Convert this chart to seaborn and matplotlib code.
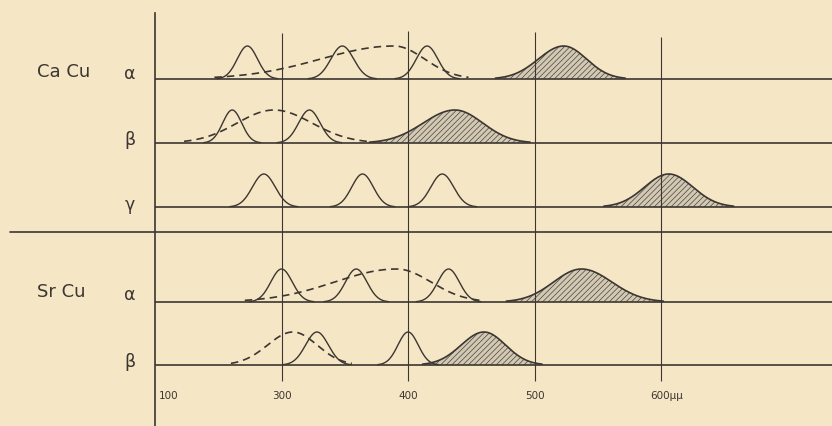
import numpy as np
import pandas as pd
import matplotlib
matplotlib.use("Agg")
import matplotlib.pyplot as plt
import seaborn as sns

# rows from top to bottom
group_names = ["Ca Cu", "Sr Cu"]
row_names = ["α", "β", "γ", "α", "β"]

# solid bands: centre (μμ) and width
solid_centres = [[273, 348, 415], [261, 322], [286, 364, 427], [300, 359, 432], [328, 400]]
solid_widths = [[8, 9, 8.5], [7.5, 8.5], [9, 8.5, 9], [8.5, 8.5, 8.5], [9, 8]]

# dashed broad bands: centre, left width, right width (None = no band)
dashed_centres = [389, 294, None, 391, 309]
dashed_left = [58, 29, None, 49, 20]
dashed_right = [24, 30, None, 27, 19]

# shaded (hatched) bands
shaded_centres = [523, 437, 606, 537, 460]
shaded_left = [20, 25, 19, 22, 18]
shaded_right = [18, 22, 19, 24, 17]

tick_values = [200, 300, 400, 500, 600]
tick_labels = ["100", "300", "400", "500", "600μμ"]

# layout (pixel rows of the original plate)
W, H = 832, 426
baseline_px = [79, 143, 207, 302, 365]
label_px = [74, 140, 205, 295, 362]
group_px = [72, 292]
separator_px = 232
peak_h = 33
bg = "#f5e6c5"
ink = "#3b3631"

sns.set_theme(style="white", rc={"figure.facecolor": bg, "axes.facecolor": bg,
                                 "hatch.linewidth": 0.45, "hatch.color": ink})
plt.rcParams["font.family"] = ["DejaVu Sans"]


def band(c, sl, sr, reach=2.7, n=240):
    x = np.linspace(c - reach * sl, c + reach * sr, n)
    s = np.where(x < c, sl, sr)
    return x, np.exp(-(x - c) ** 2 / (2 * s ** 2))


fig = plt.figure(figsize=(W / 100, H / 100), dpi=100)
ax = fig.add_axes([155 / W, 0, 1 - 155 / W, 1])
ax.set_xlim(200, 735)
ax.set_ylim(0, H)

# grid verticals and bottom ticks
tops = [393, 395, 394, 389]
for w, t in zip(tick_values[1:], tops):
    ax.vlines(w, H - 381, t, color=ink, lw=0.8)

for i in range(len(row_names)):
    base = H - baseline_px[i]
    ax.axhline(base, color=ink, lw=1.2)

    c = shaded_centres[i]
    x, y = band(c, shaded_left[i], shaded_right[i])
    ax.fill_between(x, base, base + peak_h * y, facecolor="#d3c9b2",
                    edgecolor=ink, hatch="//////", lw=0)
    sns.lineplot(x=x, y=base + peak_h * y, ax=ax, color=ink, lw=1.2,
                 estimator=None, sort=False)

    for c, s in zip(solid_centres[i], solid_widths[i]):
        x, y = band(c, s, s, reach=3.0)
        sns.lineplot(x=x, y=base + peak_h * y, ax=ax, color=ink, lw=1.0,
                     estimator=None, sort=False)

    if dashed_centres[i] is not None:
        x, y = band(dashed_centres[i], dashed_left[i], dashed_right[i], reach=2.45)
        sns.lineplot(x=x, y=base + peak_h * y, ax=ax, color=ink, lw=1.2,
                     estimator=None, sort=False, linestyle=(0, (4.5, 3)))

    fig.text(130 / W, 1 - label_px[i] / H, row_names[i], ha="center", va="center",
             fontsize=12.5, color=ink)

# separator between the two salts
ax.axhline(H - separator_px, xmin=-(145 / 677), xmax=1, color=ink, lw=1.2, clip_on=False)

for g, gy in zip(group_names, group_px):
    fig.text(37 / W, 1 - gy / H, g, ha="left", va="center", fontsize=13, color=ink)

for w, lab in zip(tick_values, tick_labels):
    if w == 200:
        ax.text(w + 3, H - 396, lab, ha="left", va="center", fontsize=7.5, color=ink)
    elif lab.endswith("μμ"):
        ax.text(w - 9, H - 396, lab, ha="left", va="center", fontsize=7.5, color=ink)
    else:
        ax.text(w, H - 396, lab, ha="center", va="center", fontsize=7.5, color=ink)

for side in ["top", "right", "bottom"]:
    ax.spines[side].set_visible(False)
ax.spines["left"].set_color(ink)
ax.spines["left"].set_linewidth(1.2)
ax.spines["left"].set_bounds(0, H - 13)
ax.set_xticks([])
ax.set_yticks([])
ax.set_xlabel("")
ax.set_ylabel("")

fig.savefig("out.png", dpi=100, facecolor=bg)
